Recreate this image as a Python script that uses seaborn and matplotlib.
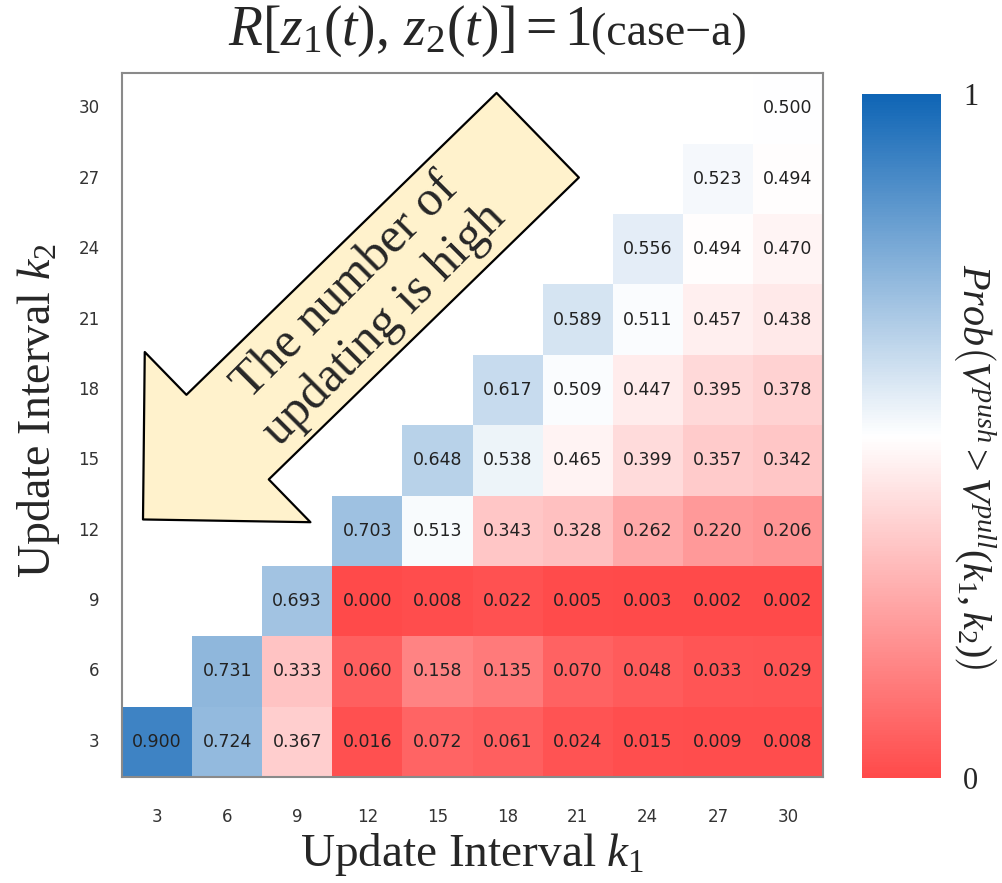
import numpy as np
import pandas as pd
import seaborn as sns
import matplotlib.pyplot as plt
from matplotlib.colors import LinearSegmentedColormap

sns.set_style('white')
plt.rcParams['font.family'] = ['DejaVu Sans']
plt.rcParams['mathtext.fontset'] = 'custom'
plt.rcParams['mathtext.rm'] = 'Liberation Serif'
plt.rcParams['mathtext.it'] = 'Liberation Serif:italic'

# update intervals
k1 = [3, 6, 9, 12, 15, 18, 21, 24, 27, 30]
k2 = [3, 6, 9, 12, 15, 18, 21, 24, 27, 30]
nan = np.nan

# Prob(V_push > V_pull), one list per k2 row, columns follow k1
p_k2_3 = [0.900, 0.724, 0.367, 0.016, 0.072, 0.061, 0.024, 0.015, 0.009, 0.008]
p_k2_6 = [nan, 0.731, 0.333, 0.060, 0.158, 0.135, 0.070, 0.048, 0.033, 0.029]
p_k2_9 = [nan, nan, 0.693, 0.000, 0.008, 0.022, 0.005, 0.003, 0.002, 0.002]
p_k2_12 = [nan, nan, nan, 0.703, 0.513, 0.343, 0.328, 0.262, 0.220, 0.206]
p_k2_15 = [nan, nan, nan, nan, 0.648, 0.538, 0.465, 0.399, 0.357, 0.342]
p_k2_18 = [nan, nan, nan, nan, nan, 0.617, 0.509, 0.447, 0.395, 0.378]
p_k2_21 = [nan, nan, nan, nan, nan, nan, 0.589, 0.511, 0.457, 0.438]
p_k2_24 = [nan, nan, nan, nan, nan, nan, nan, 0.556, 0.494, 0.470]
p_k2_27 = [nan, nan, nan, nan, nan, nan, nan, nan, 0.523, 0.494]
p_k2_30 = [nan, nan, nan, nan, nan, nan, nan, nan, nan, 0.500]

rows = [p_k2_3, p_k2_6, p_k2_9, p_k2_12, p_k2_15,
        p_k2_18, p_k2_21, p_k2_24, p_k2_27, p_k2_30]
df = pd.DataFrame(rows, index=k2, columns=k1).iloc[::-1]

cmap = LinearSegmentedColormap.from_list(
    'pushpull', ['#ff4a4a', '#ffffff', '#0f65b5'])

fig = plt.figure(figsize=(10.03, 8.83), dpi=100)
ax = fig.add_axes([0.1216, 0.120, 0.699, 0.797])
cax = fig.add_axes([0.859, 0.119, 0.079, 0.774])

sns.heatmap(df, ax=ax, cbar_ax=cax, cmap=cmap, vmin=0, vmax=1,
            annot=True, fmt='.3f',
            annot_kws={'size': 12.5, 'color': '#222222'})

for sp in ax.spines.values():
    sp.set_visible(True)
    sp.set_color('#8a8a8a')
    sp.set_linewidth(1.5)

ax.tick_params(axis='both', length=0, labelsize=12, labelcolor='#333333')
ax.tick_params(axis='x', pad=22)
ax.tick_params(axis='y', pad=16)
ax.set_yticklabels(ax.get_yticklabels(), rotation=0)

ax.set_xlabel('Update Interval $k_1$', fontsize=34,
              fontfamily='Liberation Serif')
ax.xaxis.set_label_coords(0.5, -0.076)
ax.set_ylabel('Update Interval $k_2$', fontsize=33,
              fontfamily='Liberation Serif')
ax.yaxis.set_label_coords(-0.086, 0.52)

# title: math part + plain "(case-a)"
fig.text(0.589, 0.949, r'$R[z_1(t),\, z_2(t)] = 1$',
         fontsize=40, ha='right', va='baseline')
fig.text(0.589, 0.949, '(case\u2212a)', fontsize=33,
         fontfamily='Liberation Serif', ha='left', va='baseline')

# colorbar
cbar = ax.collections[0].colorbar
cbar.outline.set_visible(False)
cbar.set_ticks([0, 1])
cbar.set_ticklabels(['0', '1'])
cbar.ax.tick_params(length=0, labelsize=22, pad=16)
for t in cbar.ax.get_yticklabels():
    t.set_fontfamily('Liberation Serif')
fig.text(0.972, 0.471, r'$Prob\left(V^{push} > V^{pull}(k_1,k_2)\right)$',
         rotation=270, fontsize=29, ha='center', va='center')

# big arrow pointing to the small-interval corner
ax.annotate('', xy=(0.30, 6.34), xytext=(5.93, 0.88),
            arrowprops=dict(arrowstyle='simple,head_length=85,head_width=171,tail_width=85',
                            mutation_scale=1, shrinkA=0, shrinkB=0,
                            fc='#fff2cc', ec='black', lw=1.6),
            annotation_clip=False)
ax.text(3.47, 3.31, 'The number of\nupdating is high', rotation=45,
        rotation_mode='anchor', ha='center', va='center',
        fontsize=36, fontfamily='Liberation Serif', linespacing=1.2)

fig.savefig('out.png', dpi=100)
